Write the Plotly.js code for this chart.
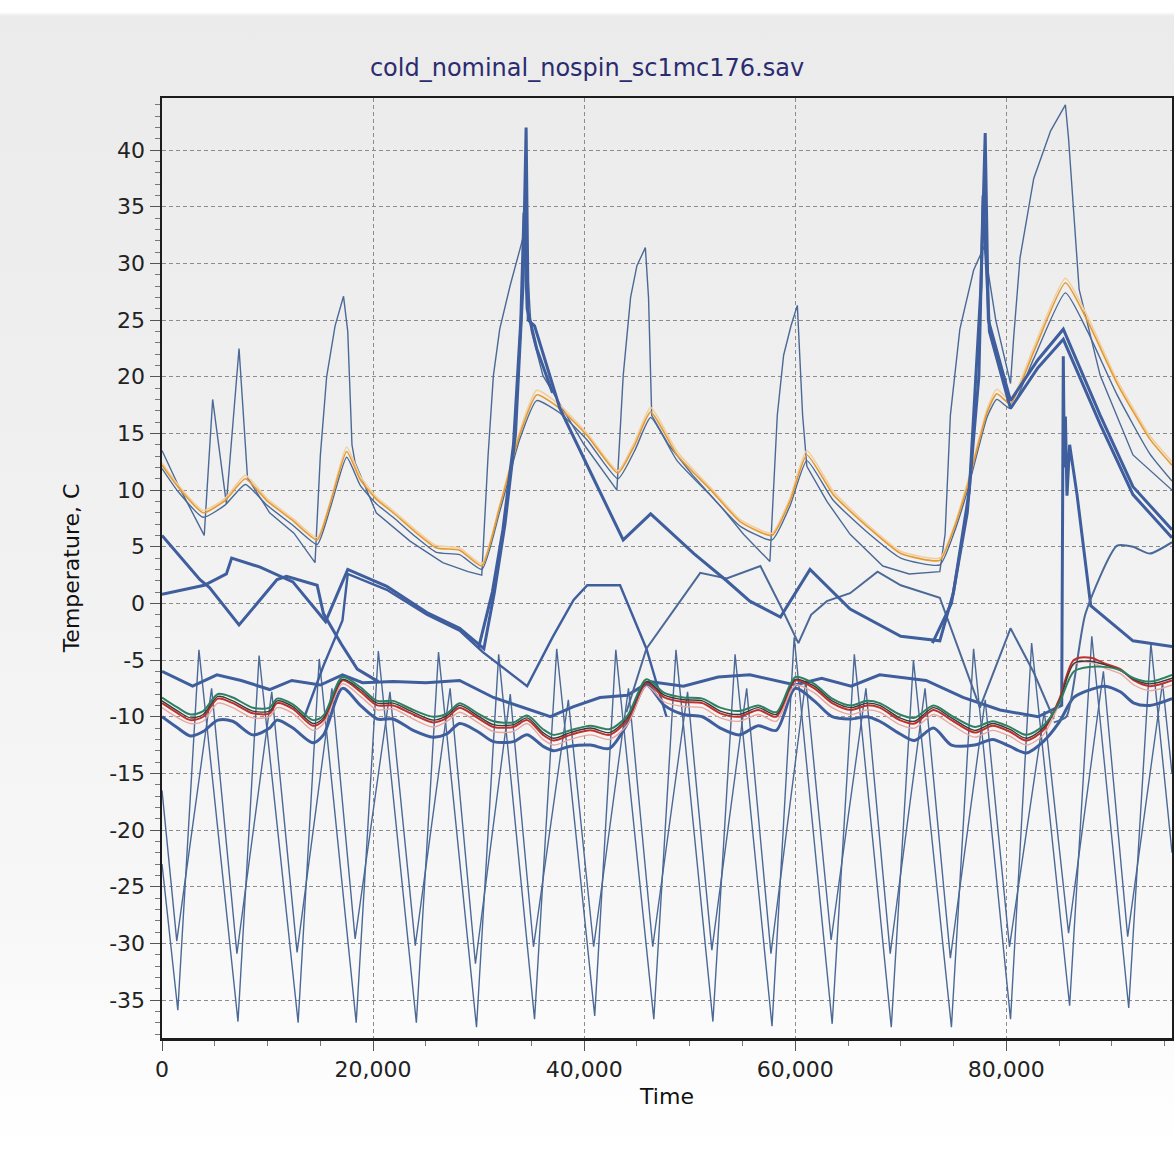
<!DOCTYPE html>
<html>
<head>
<meta charset="utf-8">
<script src="https://cdn.plot.ly/plotly-3.0.1.min.js"></script>
<style>
  html, body { margin: 0; padding: 0; }
  body { width: 1174px; height: 1152px;
    background: linear-gradient(to bottom, #ffffff 0px, #ffffff 12px, #ebebeb 16px, #efefef 400px, #f7f7f7 900px, #ffffff 1152px); }
  #chart { width: 1174px; height: 1152px; }
</style>
</head>
<body>
<div id="chart"></div>
<script>
// ---------------- data ----------------
const chartTitle = "cold_nominal_nospin_sc1mc176.sav";
const xLabel = "Time";
const yLabel = "Temperature, C";
const yTickVals = [40, 35, 30, 25, 20, 15, 10, 5, 0, -5, -10, -15, -20, -25, -30, -35];
const yTickText = ["40", "35", "30", "25", "20", "15", "10", "5", "0", "-5", "-10", "-15", "-20", "-25", "-30", "-35"];

// orange / tan pair and the thin blue that hugs them
const orangeTime = [0,1500,3900,6000,7900,9900,12400,14700,16000,17500,18800,20300,21900,24000,26000,28200,30300,32000,33900,35500,37700,40300,43200,44800,46300,48800,52000,54800,57800,59500,61100,63600,66800,70000,73700,75000,76300,78200,79100,80400,82600,85600,87700,90500,93600,95700];
const orangeTemp = [12.2,10.3,8.0,9.1,11.0,9.1,7.3,5.6,9.0,13.4,10.9,9.2,8.0,6.3,4.9,4.7,3.3,8.5,14.9,18.4,17.2,14.8,11.5,14.0,16.9,13.1,10.0,7.2,6.0,9.0,13.1,9.6,6.8,4.4,3.8,6.5,10.3,16.9,18.5,17.6,22.2,28.3,24.9,19.4,14.5,12.2];
const tanTemp    = [12.4,10.5,8.2,9.3,11.3,9.3,7.5,5.8,9.2,13.8,11.2,9.4,8.2,6.5,5.1,4.9,3.5,8.7,15.2,18.8,17.5,15.0,11.7,14.3,17.3,13.4,10.2,7.4,6.2,9.3,13.5,9.9,7.0,4.6,4.0,6.7,10.6,17.2,18.9,17.9,22.6,28.7,25.3,19.7,14.8,12.5];
const hugTemp    = [11.9,9.9,7.6,8.7,10.5,8.7,6.9,5.2,8.6,12.9,10.4,8.8,7.6,5.9,4.5,4.3,3.0,8.1,14.5,17.9,16.8,14.4,11.0,13.5,16.4,12.6,9.5,6.8,5.6,8.6,12.6,9.1,6.3,4.0,3.4,6.1,9.9,16.5,18.0,17.2,21.6,27.4,24.0,18.4,13.2,10.8];

// thin spiky line
const spikyLine = [[0,13.5],[1500,10.5],[4000,6.0],[4800,18.0],[6100,8.8],[7300,22.5],[8100,11.1],[10200,8.0],[12500,6.2],[14500,3.6],[15000,13.0],[15600,20.0],[16400,24.5],[17200,27.1],[17600,24.0],[18000,14.0],[18300,12.4],[20300,8.0],[23500,5.5],[26600,3.6],[29000,2.8],[30300,2.5],[30900,13.1],[31400,20.1],[32000,24.2],[33000,28.1],[33900,31.2],[34400,33.0],[35000,24.0],[36100,20.1],[40000,14.0],[43100,10.0],[43700,20.1],[44400,27.0],[45000,29.8],[45800,31.4],[46100,27.0],[46400,16.6],[48000,14.0],[50300,11.3],[53000,8.5],[55100,6.1],[57600,3.7],[58300,16.6],[58900,21.9],[59600,24.5],[60200,26.3],[60700,16.6],[61100,12.1],[63000,9.0],[65200,6.1],[68300,3.3],[70800,2.6],[73700,2.8],[74200,6.1],[74700,16.6],[75600,24.2],[76900,29.4],[77900,31.5],[79000,25.0],[80400,19.4],[80700,23.5],[81300,30.5],[82600,37.5],[84200,41.7],[85600,44.0],[85900,41.0],[86400,34.0],[86900,27.7],[88900,20.1],[92000,13.1],[95700,10.0]];

// thick lines
const thickMain = [[0,0.8],[4000,1.6],[6100,2.6],[6600,4.0],[9300,3.2],[12400,1.9],[15500,-1.6],[17600,3.0],[21300,1.5],[25100,-0.8],[28200,-2.2],[30100,-3.7],[30500,-4.0],[31500,1.0],[32500,7.0],[33500,15.0],[34200,28.0],[34500,42.0],[34700,25.0],[35300,24.5],[37700,17.2],[40900,11.0],[43700,5.6],[46300,7.9],[50400,4.4],[53500,2.0],[55700,0.2],[58600,-1.2],[61400,3.0],[65200,-0.5],[70000,-2.9],[73700,-3.3],[75000,1.0],[76500,10.0],[77600,28.0],[78000,41.5],[78300,25.0],[80400,17.9],[83000,21.5],[85400,24.2],[88900,16.6],[92000,10.3],[95700,6.5]];
const thickTwinA = [[30000,-3.9],[31300,1.0],[32300,6.5],[33300,14.0],[34000,25.0],[34300,34.5],[34600,26.0],[35500,22.5],[37000,18.6]];
const thickTwinB = [[73000,-3.5],[74800,0.0],[76300,8.0],[77400,20.0],[77800,36.0],[78100,30.0],[78400,24.0],[80400,17.2],[83000,20.8],[85400,23.3],[88900,15.8],[92000,9.6],[95700,5.8]];
const thickEarly = [[0,6.0],[2000,3.8],[3600,2.1],[4500,1.4],[7300,-1.9],[10900,2.1],[11800,2.4],[14700,1.6],[15300,-0.9],[17000,-3.6],[18500,-5.8],[20500,-6.9]];
const midLineA = [[13500,-10.0],[15300,-5.5],[17100,-1.5],[17600,2.6],[21300,1.2],[25100,-1.0],[28200,-2.4],[30400,-4.3],[34600,-7.3],[37000,-3.0],[39000,0.3],[40300,1.6],[43400,1.6],[45900,-4.0],[47800,-10.0]];
const midLineB = [[44000,-9.6],[45900,-4.0],[51000,2.7],[53500,2.2],[56700,3.3],[58600,-0.2],[60300,-3.5],[61500,-1.0],[63000,0.2],[65200,0.9],[67800,2.8],[70000,1.6],[73700,0.5],[77500,-9.2],[80400,-2.2],[82600,-6.1],[84500,-10.2]];
const riseLine = [[84500,-10.5],[85700,-10.0],[87500,-0.9],[90500,5.1],[92000,5.0],[93600,4.4],[95700,5.4]];
const upperBand = [[0,-6.0],[2900,-7.3],[5200,-6.3],[7500,-6.8],[10200,-7.6],[12300,-6.8],[15000,-7.2],[17100,-6.3],[19000,-7.0],[21900,-6.9],[25000,-7.0],[28200,-6.8],[31400,-8.3],[34000,-9.1],[36800,-10.0],[39000,-9.1],[41500,-8.3],[44100,-8.1],[46200,-6.9],[49400,-7.3],[52700,-6.5],[55700,-6.3],[60000,-7.2],[62500,-6.6],[65300,-7.3],[68000,-6.3],[72400,-6.8],[75900,-8.3],[79400,-9.4],[83000,-10.0],[84400,-9.4],[85250,-9.0],[85400,21.8],[85500,12.0],[85600,16.5],[85750,9.5],[86000,14.0],[86700,9.6],[88000,-0.2],[92000,-3.3],[95700,-3.8]];

// cluster near -10
const clusterTime = [0,1500,2700,3900,5300,6700,8600,10200,10900,12400,14300,15300,17100,18800,20400,21900,23800,25700,27000,28200,29900,31400,33300,34600,36100,37100,38700,40600,42400,44100,45900,47600,49400,51200,52900,54700,56500,58200,60000,61800,63500,65300,66800,68000,69900,71300,73100,74800,77000,78700,80300,81900,83500,85000,86400,88000,89300,90800,92100,93600,95700];
const greenTemp = [-8.3,-9.2,-9.8,-9.5,-8.0,-8.3,-9.2,-9.2,-8.4,-8.9, -10.3,-9.9,-6.5,-7.4,-8.6,-8.6,-9.4,-10.0,-9.7,-8.8, -9.7,-10.4,-10.5,-9.9,-11.1,-11.6,-11.2,-10.8,-11.1,-9.9, -6.7,-7.9,-8.3,-8.4,-9.2,-9.5,-9.0,-9.6,-6.5,-7.1, -8.4,-9.0,-8.6,-8.8,-9.8,-10.1,-9.0,-9.9,-10.9,-10.4, -10.9,-11.6,-10.8,-8.8,-6.0,-5.6,-5.6,-5.9,-6.6,-6.9,-6.3];
const darkTemp  = [-8.6,-9.5,-10.1,-9.8,-8.2,-8.6,-9.5,-9.5,-8.6,-9.1, -10.6,-10.1,-6.7,-7.6,-8.8,-8.8,-9.6,-10.3,-9.9,-9.0, -9.9,-10.7,-10.7,-10.1,-11.4,-11.9,-11.4,-11.0,-11.4,-10.1, -6.9,-8.1,-8.5,-8.6,-9.5,-9.8,-9.2,-9.8,-6.7,-7.3, -8.6,-9.2,-8.8,-9.0,-10.1,-10.4,-9.2,-10.1,-11.2,-10.6, -11.1,-11.9,-11.0,-8.7,-5.3,-5.1,-5.4,-5.9,-6.7,-7.1,-6.6];
const redTemp   = [-8.8,-9.7,-10.3,-10.0,-8.4,-8.8,-9.7,-9.7,-8.8,-9.3, -10.8,-10.3,-6.8,-7.8,-9.0,-9.0,-9.8,-10.5,-10.1,-9.2, -10.1,-10.9,-10.9,-10.3,-11.6,-12.1,-11.6,-11.2,-11.6,-10.3, -7.0,-8.3,-8.7,-8.8,-9.7,-10.0,-9.4,-10.0,-6.8,-7.5, -8.8,-9.4,-9.0,-9.2,-10.3,-10.6,-9.4,-10.3,-11.4,-10.8, -11.3,-12.1,-11.2,-8.5,-5.0,-4.8,-5.3,-5.8,-6.8,-7.3,-6.8];
const pinkTemp  = [-9.2,-10.1,-10.6,-10.4,-8.8,-9.2,-10.1,-10.0,-9.2,-9.7, -11.2,-10.6,-7.1,-8.2,-9.4,-9.3,-10.2,-10.9,-10.4,-9.6, -10.5,-11.3,-11.3,-10.6,-12.0,-12.5,-12.0,-11.6,-12.0,-10.7, -7.3,-8.7,-9.1,-9.2,-10.1,-10.4,-9.8,-10.4,-7.2,-7.9, -9.2,-9.8,-9.4,-9.6,-10.7,-11.0,-9.8,-10.7,-11.8,-11.2, -11.7,-12.5,-11.6,-8.9,-5.4,-5.2,-5.7,-6.2,-7.2,-7.7,-7.2];
const lowerBand = [-10.0,-11.0,-11.7,-11.3,-10.3,-10.4,-11.6,-11.0,-10.3,-11.0, -12.3,-11.6,-7.5,-9.0,-10.2,-10.2,-11.2,-11.8,-11.5,-10.6, -11.3,-12.2,-12.2,-11.6,-12.6,-13.0,-12.6,-12.5,-12.8,-10.6, -7.2,-9.0,-9.8,-10.0,-11.0,-11.6,-10.8,-11.2,-7.5,-8.6, -10.0,-10.2,-10.0,-10.4,-11.5,-12.1,-11.0,-12.5,-12.5,-12.0, -12.6,-13.2,-12.2,-10.5,-8.3,-7.6,-7.3,-7.8,-8.8,-9.0,-8.4];

// two deep oscillating thin lines
const deepWave = [[0,-23.0],[1500,-35.9],[3500,-4.1],[7200,-36.9],[9200,-4.6],[12900,-37.0],[14900,-4.9],[18400,-37.0],[20500,-4.2],[24100,-37.0],[26200,-4.3],[29800,-37.4],[31900,-4.5],[35300,-36.7],[37400,-4.0],[41000,-36.4],[43000,-4.1],[46600,-36.7],[48700,-4.1],[52200,-36.9],[54300,-4.5],[57800,-37.3],[59900,-3.0],[63500,-37.1],[65600,-4.5],[69100,-37.4],[71200,-5.0],[74800,-37.4],[76900,-4.0],[80400,-36.7],[82400,-3.5],[86000,-35.5],[88100,-2.9],[91600,-35.7],[93700,-3.5],[95700,-22.0]];
const shallowWave = [[0,-16.5],[1400,-29.8],[4700,-7.5],[7100,-30.9],[10400,-7.8],[12800,-30.8],[16100,-7.5],[18300,-29.6],[21600,-7.8],[24000,-30.2],[27300,-7.5],[29700,-31.8],[33000,-8.0],[35200,-30.3],[38500,-8.5],[40900,-30.3],[44200,-7.5],[46500,-30.3],[49800,-7.8],[52100,-30.6],[55400,-7.5],[57700,-30.9],[61000,-6.8],[63400,-29.7],[66700,-7.5],[69000,-30.9],[72300,-7.5],[74700,-31.3],[78000,-8.5],[80300,-30.3],[83600,-9.5],[85900,-29.1],[89200,-6.0],[91500,-29.4],[94800,-7.0],[95700,-15.0]];

// ---------------- styling ----------------
const THIN = '#4b6996';
const THICK = '#3f5e9d';
const FONT = 'DejaVu Sans, Verdana, sans-serif';

function line(xs, ys, color, width, smooth) {
  const ln = { color: color, width: width };
  if (smooth) { ln.shape = 'spline'; ln.smoothing = smooth; }
  return { x: xs, y: ys, type: 'scatter', mode: 'lines', line: ln, hoverinfo: 'skip', showlegend: false };
}
function fromPairs(pairs, color, width, smooth) {
  return line(pairs.map(p => p[0]), pairs.map(p => p[1]), color, width, smooth);
}

const traces = [
  fromPairs(deepWave, THIN, 1.4),
  fromPairs(shallowWave, THIN, 1.4),
  line(clusterTime, lowerBand, THICK, 3, 0.8),
  fromPairs(upperBand, THICK, 3),
  fromPairs(thickEarly, THICK, 3),
  fromPairs(midLineA, THICK, 2.4),
  fromPairs(midLineB, THIN, 2),
  fromPairs(riseLine, THIN, 2, 0.6),
  line(clusterTime, pinkTemp, '#e9a6a0', 1.4, 0.8),
  line(clusterTime, redTemp, '#c0302a', 2, 0.8),
  line(clusterTime, darkTemp, '#3b3b3b', 1.4, 0.8),
  line(clusterTime, greenTemp, '#2f7f63', 2, 0.8),
  fromPairs(spikyLine, THIN, 1.4),
  line(orangeTime, hugTemp, THIN, 1.4, 0.5),
  line(orangeTime, tanTemp, '#f2cf9c', 1.6, 0.5),
  line(orangeTime, orangeTemp, '#e49a34', 1.6, 0.5),
  fromPairs(thickTwinA, THICK, 3),
  fromPairs(thickTwinB, THICK, 3),
  fromPairs(thickMain, THICK, 3)
];

const layout = {
  width: 1174, height: 1152,
  margin: { l: 162, r: 2, t: 98, b: 114 },
  paper_bgcolor: 'rgba(0,0,0,0)',
  plot_bgcolor: 'rgba(0,0,0,0)',
  font: { family: FONT, size: 22, color: '#222' },
  title: { text: chartTitle, x: 0.5, xanchor: 'center', y: 1 - 68 / 1152, yanchor: 'middle',
           font: { family: FONT, size: 24, color: '#2b2b70' } },
  xaxis: {
    range: [0, 95700],
    tickmode: 'linear', tick0: 0, dtick: 20000, tickformat: ',d',
    ticks: 'outside', ticklen: 10, tickwidth: 1, tickcolor: '#555',
    minor: { tickmode: 'linear', tick0: 0, dtick: 5000, ticks: 'outside', ticklen: 5, tickcolor: '#777', showgrid: false },
    showgrid: true, gridcolor: '#8c8c8c', gridwidth: 1, griddash: '4px,3px',
    showline: true, linecolor: '#1c1c1c', linewidth: 2.5, mirror: true,
    zeroline: false,
    tickfont: { family: FONT, size: 22, color: '#222' },
    title: { text: xLabel, font: { family: FONT, size: 22, color: '#111' }, standoff: 8 }
  },
  yaxis: {
    range: [-38.35, 44.6],
    tickmode: 'array', tickvals: yTickVals, ticktext: yTickText,
    ticks: 'outside', ticklen: 10, tickwidth: 1, tickcolor: '#555',
    minor: { tickmode: 'linear', tick0: 0, dtick: 1, ticks: 'outside', ticklen: 5, tickcolor: '#777', showgrid: false },
    showgrid: true, gridcolor: '#8c8c8c', gridwidth: 1, griddash: '4px,3px',
    showline: true, linecolor: '#1c1c1c', linewidth: 2.5, mirror: true,
    zeroline: false,
    tickfont: { family: FONT, size: 22, color: '#222' },
    title: { text: yLabel, font: { family: FONT, size: 22, color: '#111' }, standoff: 24 }
  }
};

Plotly.newPlot('chart', traces, layout, { staticPlot: true, displayModeBar: false });
</script>
</body>
</html>
